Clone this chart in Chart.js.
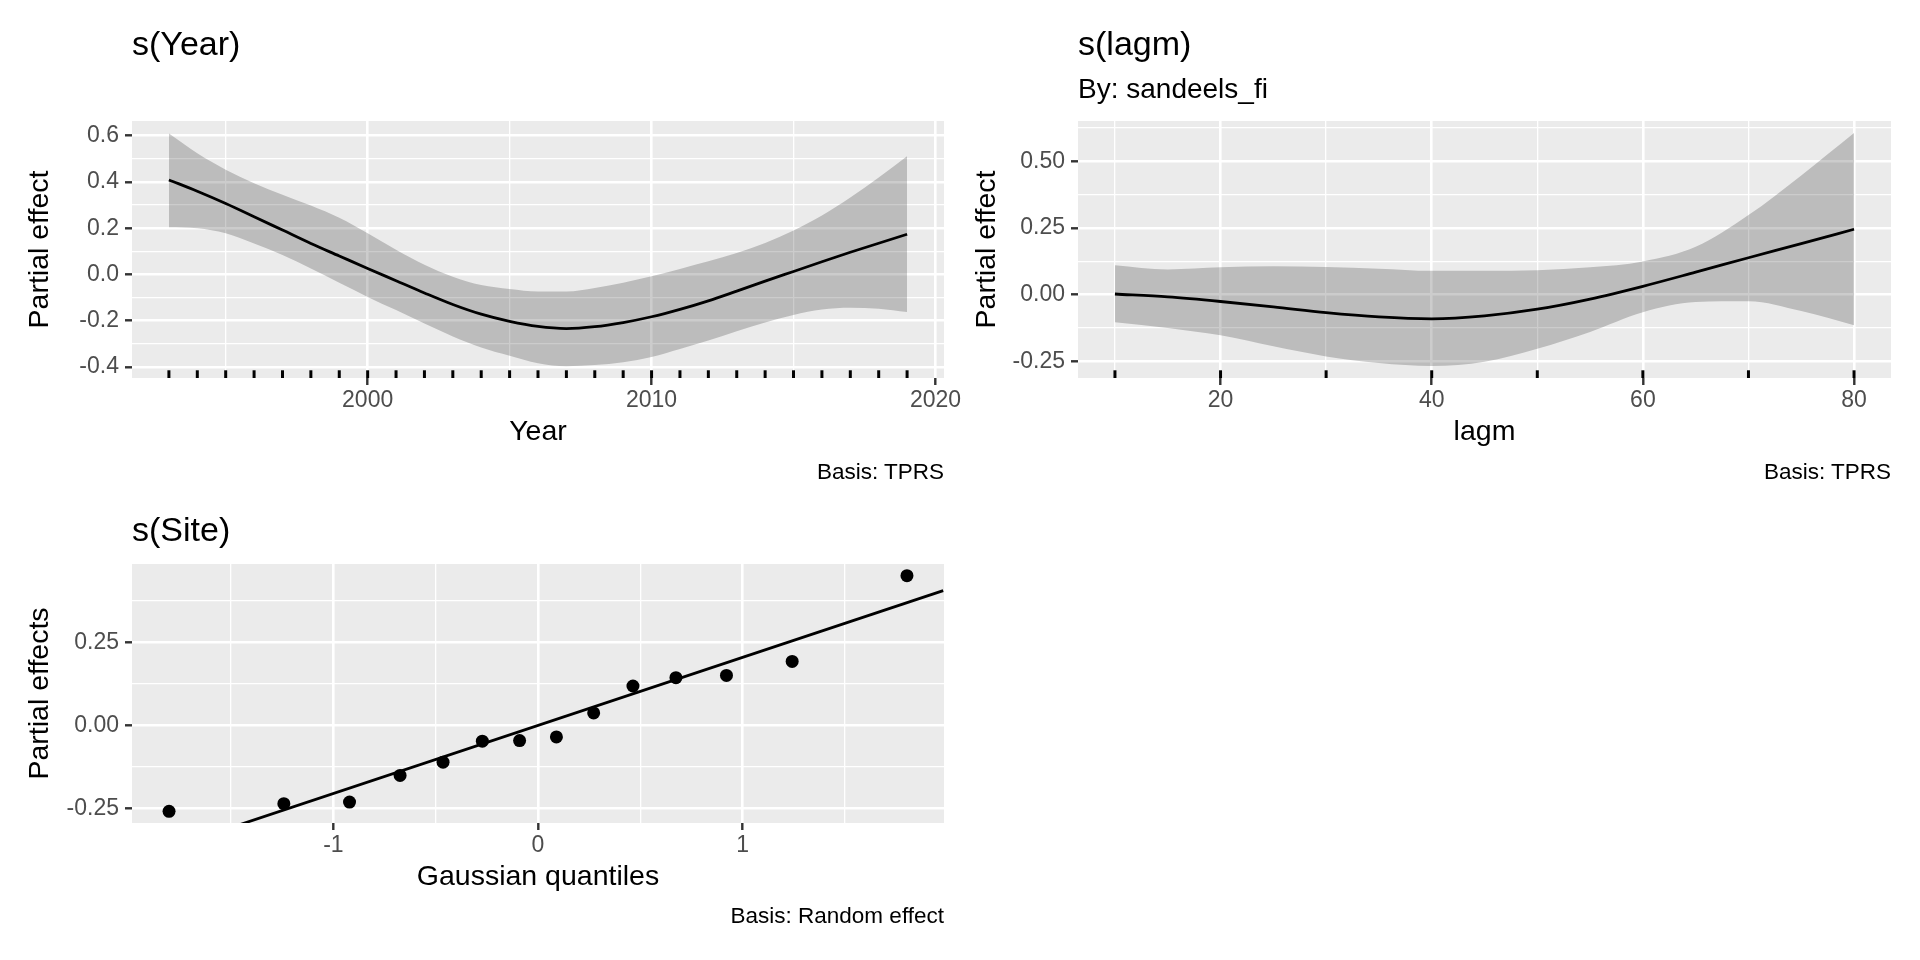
<!DOCTYPE html>
<html>
<head>
<meta charset="utf-8">
<title>Partial effects</title>
<script src="https://cdn.jsdelivr.net/npm/chart.js@4.4.1/dist/chart.umd.min.js"></script>
<style>
  html, body { margin: 0; padding: 0; background: #fff; }
  body { width: 1920px; height: 960px; position: relative; overflow: hidden; font-family: "Liberation Sans", Arial, sans-serif; }
  canvas { position: absolute; }
  .txt { position: absolute; white-space: nowrap; color: #000; }
</style>
</head>
<body>
<canvas id="cYear" width="1000" height="480" style="left:0px;top:0px"></canvas>
<canvas id="cLagm" width="970" height="480" style="left:950px;top:0px"></canvas>
<canvas id="cSite" width="1000" height="480" style="left:0px;top:480px"></canvas>

<div class="txt" style="left:132px;top:26px;font-size:34px;line-height:34px">s(Year)</div>
<div class="txt" style="right:976px;top:461px;font-size:22.5px;line-height:22px">Basis: TPRS</div>

<div class="txt" style="left:1078px;top:26px;font-size:34px;line-height:34px">s(lagm)</div>
<div class="txt" style="left:1078px;top:75px;font-size:28px;line-height:28px">By: sandeels_fi</div>
<div class="txt" style="right:29px;top:461px;font-size:22.5px;line-height:22px">Basis: TPRS</div>

<div class="txt" style="left:132px;top:512px;font-size:34px;line-height:34px">s(Site)</div>
<div class="txt" style="right:976px;top:905px;font-size:22.5px;line-height:22px">Basis: Random effect</div>

<script>
// s(Year): fitted smooth with confidence band
var years = [1993, 1994, 1995, 1996, 1997, 1998, 1999, 2000, 2001, 2002, 2003, 2004, 2005, 2006,
             2007, 2008, 2009, 2010, 2011, 2012, 2013, 2014, 2015, 2016, 2017, 2018, 2019];
var yearFit = [0.409, 0.360, 0.307, 0.250, 0.192, 0.134, 0.080, 0.026, -0.027, -0.080, -0.130, -0.172, -0.203, -0.225,
               -0.234, -0.226, -0.208, -0.183, -0.151, -0.114, -0.072, -0.029, 0.013, 0.055, 0.096, 0.135, 0.174];
var yearUpper = [0.610, 0.524, 0.453, 0.395, 0.345, 0.298, 0.245, 0.178, 0.107, 0.042, -0.010, -0.046, -0.063, -0.074,
                 -0.074, -0.059, -0.036, -0.008, 0.024, 0.057, 0.093, 0.136, 0.190, 0.255, 0.333, 0.420, 0.512];
var yearLower = [0.204, 0.200, 0.178, 0.134, 0.084, 0.026, -0.036, -0.097, -0.154, -0.212, -0.268, -0.316, -0.352, -0.384,
                 -0.397, -0.392, -0.380, -0.357, -0.322, -0.286, -0.246, -0.208, -0.175, -0.152, -0.144, -0.148, -0.163];
var yearTicks = [2000, 2010, 2020];
var yearTickLabels = ['2000', '2010', '2020'];
var yearMinor = [1995, 2005, 2015];
var yearEffTicks = [-0.4, -0.2, 0, 0.2, 0.4, 0.6];
var yearEffLabels = ['-0.4', '-0.2', '0.0', '0.2', '0.4', '0.6'];
var yearEffMinor = [-0.3, -0.1, 0.1, 0.3, 0.5];

// s(lagm), by sandeels_fi
var lagm = [10, 15, 20, 25, 30, 35, 40, 45, 50, 55, 60, 65, 70, 75, 80];
var lagmFit = [0.002, -0.009, -0.026, -0.046, -0.068, -0.084, -0.091, -0.080, -0.055, -0.017, 0.031, 0.084, 0.138, 0.191, 0.245];
var lagmUpper = [0.110, 0.094, 0.102, 0.106, 0.103, 0.097, 0.089, 0.089, 0.091, 0.102, 0.124, 0.179, 0.298, 0.447, 0.606];
var lagmLower = [-0.104, -0.125, -0.153, -0.194, -0.232, -0.257, -0.268, -0.252, -0.203, -0.140, -0.066, -0.028, -0.025, -0.062, -0.115];
var lagmRug = [10, 20, 30, 40, 50, 60, 70, 80];
var lagmTicks = [20, 40, 60, 80];
var lagmTickLabels = ['20', '40', '60', '80'];
var lagmMinor = [10, 30, 50, 70];
var lagmEffTicks = [-0.25, 0, 0.25, 0.5];
var lagmEffLabels = ['-0.25', '0.00', '0.25', '0.50'];
var lagmEffMinor = [-0.125, 0.125, 0.375, 0.625];

// s(Site): random effect QQ plot
var siteQuantiles = [-1.803, -1.242, -0.921, -0.674, -0.464, -0.272, -0.090, 0.090, 0.272, 0.464, 0.674, 0.921, 1.242, 1.803];
var siteEffects = [-0.258, -0.235, -0.230, -0.150, -0.110, -0.047, -0.045, -0.034, 0.038, 0.119, 0.144, 0.151, 0.193, 0.451];
var qqLineX = [-1.98, 1.98];
var qqLineY = [-0.405, 0.406];
var siteTicks = [-1, 0, 1];
var siteTickLabels = ['-1', '0', '1'];
var siteMinor = [-1.5, -0.5, 0.5, 1.5];
var siteEffTicks = [-0.25, 0, 0.25];
var siteEffLabels = ['-0.25', '0.00', '0.25'];
var siteEffMinor = [-0.125, 0.125, 0.375];

var FONT = '"Liberation Sans", Arial, sans-serif';

function pts(xs, ys) {
  return xs.map(function (x, i) { return { x: x, y: ys[i] }; });
}

function tickList(major, labels, minor) {
  var t = major.map(function (v, i) { return { value: v, txt: labels[i], minor: false }; });
  minor.forEach(function (v) { t.push({ value: v, txt: '', minor: true }); });
  return t.sort(function (a, b) { return a.value - b.value; });
}

function axis(o) {
  return {
    type: 'linear',
    bounds: 'data',
    min: o.min,
    max: o.max,
    afterBuildTicks: function (s) { s.ticks = tickList(o.major, o.labels, o.minor); },
    afterFit: function (s) {
      if (o.width) s.width = o.width;
      if (o.height) s.height = o.height;
    },
    border: { display: false },
    grid: {
      drawOnChartArea: true,
      color: '#FFFFFF',
      lineWidth: function (c) { return (c.tick && c.tick.minor) ? 1.3 : 2.6; },
      tickLength: 7,
      tickWidth: 2.4,
      tickColor: function (c) { return (c.tick && c.tick.minor) ? 'rgba(0,0,0,0)' : '#333333'; }
    },
    ticks: {
      autoSkip: false,
      maxRotation: 0,
      color: '#4D4D4D',
      padding: o.tickPad,
      font: { family: FONT, size: 23 },
      callback: function (v, i, t) { return t[i].txt; }
    },
    title: {
      display: true,
      text: o.title,
      color: '#000000',
      font: { family: FONT, size: 28.5 },
      padding: o.titlePad
    }
  };
}

var panelPlugin = {
  id: 'panel',
  beforeDraw: function (chart) {
    var a = chart.chartArea, ctx = chart.ctx;
    ctx.save();
    ctx.fillStyle = '#EBEBEB';
    ctx.fillRect(a.left, a.top, a.right - a.left, a.bottom - a.top);
    ctx.restore();
  },
  afterDatasetsDraw: function (chart, args, opts) {
    if (!opts.rug) return;
    var a = chart.chartArea, ctx = chart.ctx, xs = chart.scales.x;
    var len = (a.bottom - a.top) * 0.03;
    ctx.save();
    ctx.strokeStyle = '#000000';
    ctx.lineWidth = 3;
    opts.rug.forEach(function (v) {
      var x = xs.getPixelForValue(v);
      ctx.beginPath();
      ctx.moveTo(x, a.bottom);
      ctx.lineTo(x, a.bottom - len);
      ctx.stroke();
    });
    ctx.restore();
  }
};

function smoothSets(xs, fit, lo, hi) {
  var band = 'rgba(0,0,0,0.2)';
  return [
    { data: pts(xs, fit), borderColor: '#000000', borderWidth: 2.8, pointRadius: 0, fill: false, cubicInterpolationMode: 'monotone' },
    { data: pts(xs, lo), borderColor: 'rgba(0,0,0,0)', borderWidth: 0, pointRadius: 0, fill: false, cubicInterpolationMode: 'monotone' },
    { data: pts(xs, hi), borderColor: 'rgba(0,0,0,0)', borderWidth: 0, pointRadius: 0, fill: '-1', backgroundColor: band, cubicInterpolationMode: 'monotone' }
  ];
}

function baseOptions(pad, rug, xAxis, yAxis) {
  return {
    responsive: false,
    animation: false,
    events: [],
    layout: { padding: pad },
    plugins: { legend: { display: false }, tooltip: { enabled: false }, panel: { rug: rug } },
    scales: { x: xAxis, y: yAxis }
  };
}

new Chart(document.getElementById('cYear'), {
  type: 'line',
  data: { datasets: smoothSets(years, yearFit, yearLower, yearUpper) },
  options: baseOptions({ left: 0, top: 121, right: 56, bottom: 31 }, years,
    axis({ min: 1991.7, max: 2020.3, major: yearTicks, labels: yearTickLabels, minor: yearMinor, height: 71, tickPad: 2,
           title: 'Year', titlePad: { top: 0, bottom: 0 } }),
    axis({ min: -0.448, max: 0.664, major: yearEffTicks, labels: yearEffLabels, minor: yearEffMinor, width: 132, tickPad: 6,
           title: 'Partial effect', titlePad: { top: 23, bottom: 0 } })),
  plugins: [panelPlugin]
});

new Chart(document.getElementById('cLagm'), {
  type: 'line',
  data: { datasets: smoothSets(lagm, lagmFit, lagmLower, lagmUpper) },
  options: baseOptions({ left: 0, top: 121, right: 29, bottom: 31 }, lagmRug,
    axis({ min: 6.5, max: 83.5, major: lagmTicks, labels: lagmTickLabels, minor: lagmMinor, height: 71, tickPad: 2,
           title: 'lagm', titlePad: { top: 0, bottom: 0 } }),
    axis({ min: -0.313, max: 0.651, major: lagmEffTicks, labels: lagmEffLabels, minor: lagmEffMinor, width: 128, tickPad: 6,
           title: 'Partial effect', titlePad: { top: 20, bottom: 0 } })),
  plugins: [panelPlugin]
});

new Chart(document.getElementById('cSite'), {
  type: 'scatter',
  data: {
    datasets: [
      { data: pts(qqLineX, qqLineY), showLine: true, borderColor: '#000000', borderWidth: 2.8, pointRadius: 0, fill: false },
      { data: pts(siteQuantiles, siteEffects), pointRadius: 6.5, pointBackgroundColor: '#000000', pointBorderWidth: 0, showLine: false }
    ]
  },
  options: baseOptions({ left: 0, top: 84, right: 56, bottom: 66 }, null,
    axis({ min: -1.984, max: 1.984, major: siteTicks, labels: siteTickLabels, minor: siteMinor, height: 71, tickPad: 2,
           title: 'Gaussian quantiles', titlePad: { top: 0, bottom: 0 } }),
    axis({ min: -0.293, max: 0.486, major: siteEffTicks, labels: siteEffLabels, minor: siteEffMinor, width: 132, tickPad: 6,
           title: 'Partial effects', titlePad: { top: 23, bottom: 0 } })),
  plugins: [panelPlugin]
});
</script>
</body>
</html>
